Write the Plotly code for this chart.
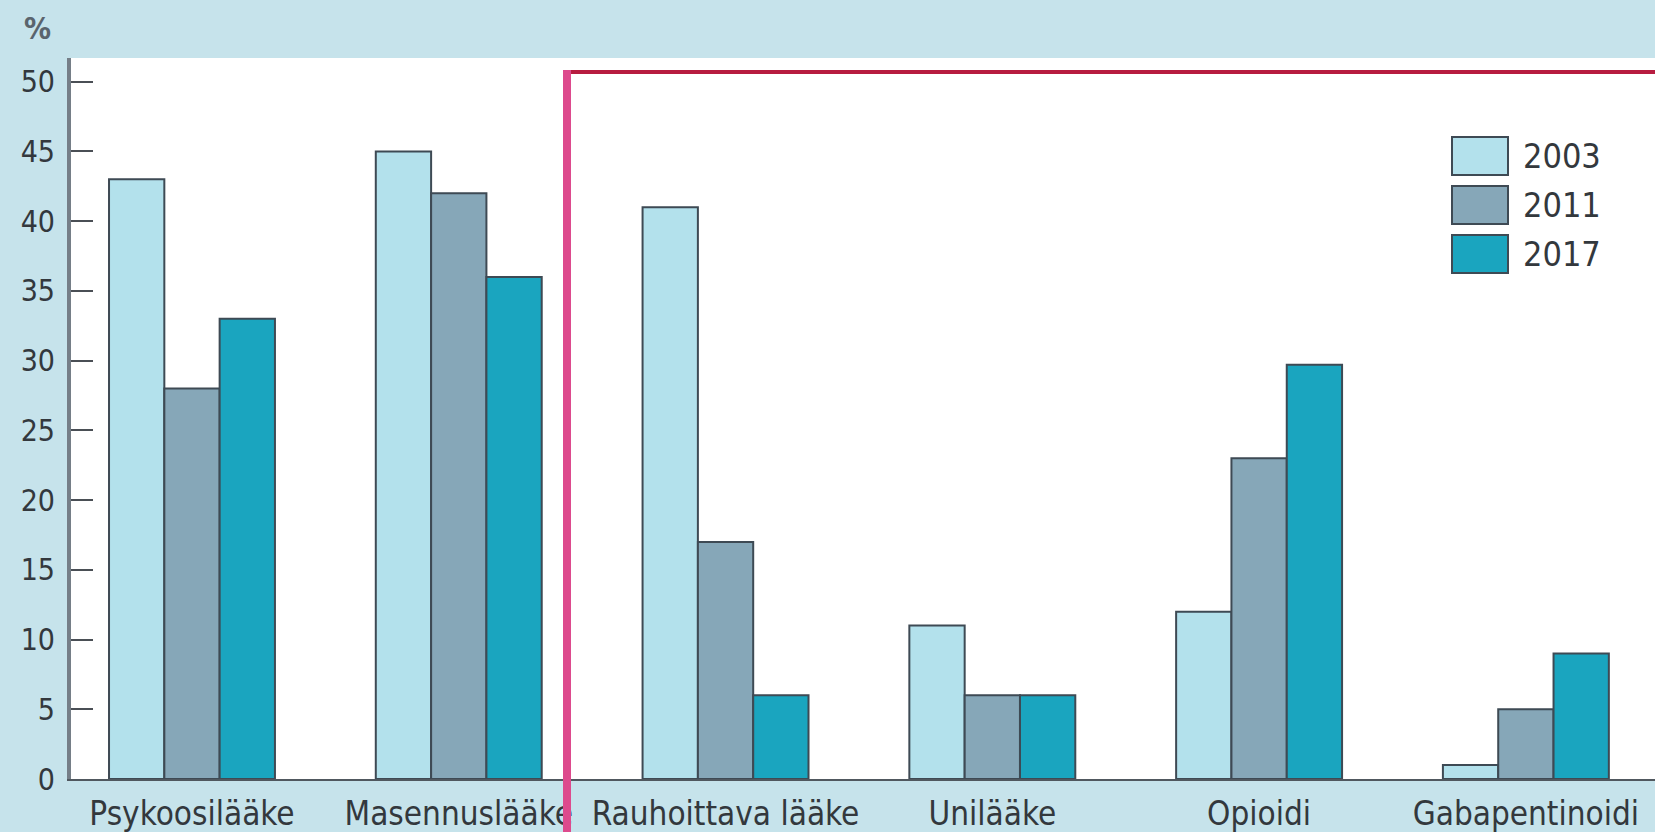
import plotly.graph_objects as go

# Lääkeryhmät ja osuudet (%) vuosittain
categories = ["Psykoosilääke", "Masennuslääke", "Rauhoittava lääke",
              "Unilääke", "Opioidi", "Gabapentinoidi"]
years = ["2003", "2011", "2017"]
values_2003 = [43, 45, 41, 11, 12, 1]
values_2011 = [28, 42, 17, 6, 23, 5]
values_2017 = [33, 36, 6, 6, 29.7, 9]
y_ticks = [0, 5, 10, 15, 20, 25, 30, 35, 40, 45, 50]

series = [values_2003, values_2011, values_2017]
colors = ["#b3e1ec", "#86a7b8", "#1aa5bf"]
outline = "#3e4a54"
text_color = "#33383d"
font_family = "Liberation Sans Narrow, DejaVu Sans Condensed, Roboto, sans-serif"

W, H = 1655, 832
M_L, M_R, M_T, M_B = 71, 0, 58, 53

fig = go.Figure()
for name, vals, col in zip(years, series, colors):
    fig.add_trace(go.Bar(
        x=categories, y=vals, name=name,
        marker=dict(color=col, line=dict(color=outline, width=2)),
        showlegend=False,
    ))

# helpers for positioning decorations in pixels
plot_w = W - M_L - M_R
plot_h = H - M_T - M_B


def px_x(px):
    return (px - M_L) / plot_w


def px_y(py):
    return (H - M_B - py) / plot_h


shapes = []
annotations = []

# legend drawn as boxes with labels
box_x0, box_x1 = 1452, 1508
box_tops = [137, 186, 235]
box_h = 38
for name, col, top in zip(years, colors, box_tops):
    shapes.append(dict(
        type="rect", xref="paper", yref="paper",
        x0=px_x(box_x0), x1=px_x(box_x1),
        y0=px_y(top + box_h), y1=px_y(top),
        fillcolor=col, line=dict(color=outline, width=2), layer="above",
    ))
    annotations.append(dict(
        text=name, xref="paper", yref="paper",
        x=px_x(1521), y=px_y(top + box_h / 2),
        xanchor="left", yanchor="middle", showarrow=False,
        font=dict(family=font_family, size=34, color=text_color),
    ))

# highlight frame around the right-hand groups
shapes.append(dict(
    type="line", xref="paper", yref="paper",
    x0=px_x(563), x1=px_x(W + 5), y0=px_y(72), y1=px_y(72),
    line=dict(color="#b71c40", width=4), layer="above",
))
shapes.append(dict(
    type="line", xref="paper", yref="paper",
    x0=px_x(567), x1=px_x(567), y0=px_y(70), y1=px_y(H + 5),
    line=dict(color="#dd4a8d", width=8), layer="above",
))

# unit label
annotations.append(dict(
    text="<b>%</b>", xref="paper", yref="paper",
    x=px_x(37), y=px_y(28), xanchor="center", yanchor="middle",
    showarrow=False,
    font=dict(family=font_family, size=30, color="#5a646d"),
))

fig.update_layout(
    width=W, height=H,
    margin=dict(l=M_L, r=M_R, t=M_T, b=M_B, pad=0),
    paper_bgcolor="#c6e3eb",
    plot_bgcolor="#ffffff",
    barmode="group",
    bargap=0.378,
    bargroupgap=0,
    shapes=shapes,
    annotations=annotations,
    font=dict(family=font_family, color=text_color),
)
fig.update_xaxes(
    type="category",
    range=[-0.4535, 5.484],
    showline=True, linecolor="#50585f", linewidth=2,
    ticks="", showgrid=False,
    tickfont=dict(family=font_family, size=33, color=text_color),
    ticklabelstandoff=4,
)
fig.update_yaxes(
    range=[0, 51.7],
    tickvals=y_ticks,
    ticks="inside", ticklen=22, tickwidth=2, tickcolor="#4a4f55",
    showline=True, linecolor="#757e87", linewidth=4,
    showgrid=False, zeroline=False,
    tickfont=dict(family=font_family, size=30, color=text_color),
    ticklabelstandoff=6,
)

fig.write_html("out.html")
